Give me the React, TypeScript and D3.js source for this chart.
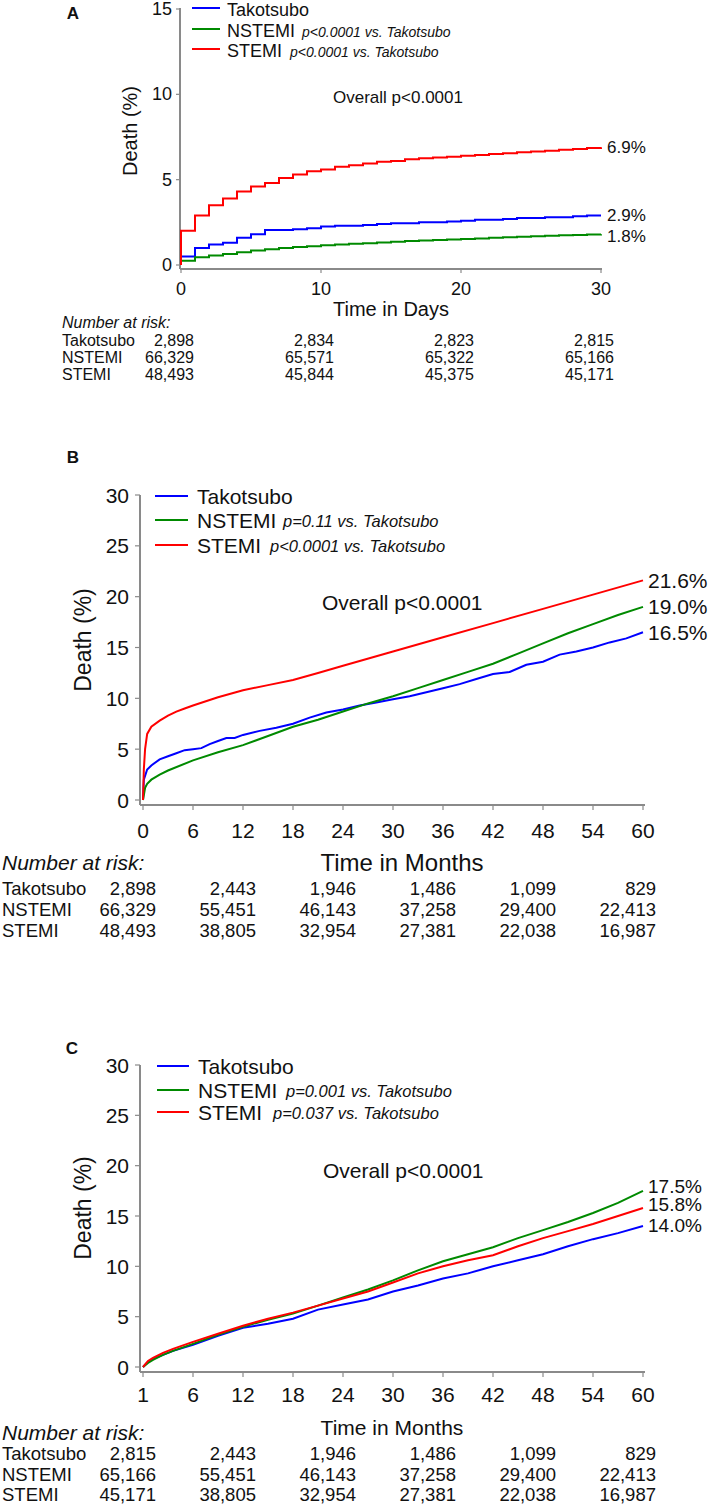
import React from "react";
import * as d3 from "d3";

const FONT = "'Liberation Sans', Arial, Helvetica, sans-serif";

// ---------- shared ----------
const SERIES_NAMES = ["Takotsubo", "NSTEMI", "STEMI"];
const SERIES_COLORS = ["#0000ff", "#008a00", "#ff0000"];

// ---------- Panel A (30 days) ----------
const A_DAYS = [0, 1, 2, 3, 4, 5, 6, 7, 8, 9, 10, 11, 12, 13, 14, 15, 16, 17, 18, 19, 20, 21, 22, 23, 24, 25, 26, 27, 28, 29, 30];
const A_TAKO = [0.5, 1.0, 1.2, 1.3, 1.6, 1.8, 2.05, 2.05, 2.1, 2.15, 2.25, 2.3, 2.3, 2.35, 2.4, 2.45, 2.45, 2.5, 2.5, 2.55, 2.6, 2.65, 2.65, 2.7, 2.75, 2.75, 2.8, 2.8, 2.85, 2.9, 2.9];
const A_NSTEMI = [0.25, 0.45, 0.55, 0.65, 0.75, 0.85, 0.92, 1.0, 1.05, 1.1, 1.15, 1.2, 1.25, 1.28, 1.32, 1.36, 1.4, 1.43, 1.46, 1.5, 1.53, 1.56, 1.59, 1.62, 1.65, 1.68, 1.71, 1.74, 1.76, 1.78, 1.8];
const A_STEMI = [2.0, 2.9, 3.5, 3.9, 4.3, 4.6, 4.8, 5.1, 5.3, 5.5, 5.6, 5.75, 5.85, 5.95, 6.05, 6.1, 6.2, 6.25, 6.3, 6.35, 6.4, 6.45, 6.5, 6.55, 6.6, 6.65, 6.7, 6.75, 6.8, 6.85, 6.9];
const A_X_TICKS = [0, 10, 20, 30];
const A_X_LABELS = ["0", "10", "20", "30"];
const A_Y_TICKS = [0, 5, 10, 15];
const A_P_TEXTS = ["", "p<0.0001 vs. Takotsubo", "p<0.0001 vs. Takotsubo"];
const A_END_LABELS = ["2.9%", "1.8%", "6.9%"];
const A_RISK_TIMES = [0, 10, 20, 30];
const A_RISK = [
  ["2,898", "2,834", "2,823", "2,815"],
  ["66,329", "65,571", "65,322", "65,166"],
  ["48,493", "45,844", "45,375", "45,171"],
];

// ---------- Panel B (60 months) ----------
const B_TAKO_T = [0, 0.1, 0.5, 1, 2, 3, 4, 5, 6, 7, 8, 9, 10, 11, 12, 14, 16, 18, 20, 22, 24, 26, 28, 30, 32, 34, 36, 38, 40, 42, 44, 46, 48, 50, 52, 54, 56, 58, 60];
const B_TAKO_V = [0, 2.0, 3.0, 3.4, 4.0, 4.3, 4.6, 4.9, 5.0, 5.1, 5.5, 5.8, 6.1, 6.1, 6.4, 6.8, 7.1, 7.5, 8.1, 8.6, 8.9, 9.3, 9.6, 9.9, 10.2, 10.6, 11.0, 11.4, 11.9, 12.4, 12.6, 13.3, 13.6, 14.3, 14.6, 15.0, 15.5, 15.9, 16.5];
const B_NSTEMI_T = [0, 0.25, 0.5, 1, 2, 3, 6, 9, 12, 15, 18, 21, 24, 27, 30, 33, 36, 39, 42, 45, 48, 51, 54, 57, 60];
const B_NSTEMI_V = [0, 1.2, 1.6, 2.0, 2.5, 2.9, 3.9, 4.7, 5.4, 6.3, 7.2, 7.9, 8.7, 9.5, 10.2, 11.0, 11.8, 12.6, 13.4, 14.4, 15.4, 16.4, 17.3, 18.2, 19.0];
const B_STEMI_T = [0, 0.1, 0.25, 0.5, 1, 2, 3, 4, 5, 6, 9, 12, 15, 18, 21, 24, 30, 36, 42, 48, 54, 60];
const B_STEMI_V = [0, 3.0, 5.0, 6.5, 7.2, 7.8, 8.3, 8.7, 9.0, 9.3, 10.1, 10.8, 11.3, 11.8, 12.5, 13.2, 14.6, 16.0, 17.4, 18.8, 20.2, 21.6];
const B_X_TICKS = [0, 6, 12, 18, 24, 30, 36, 42, 48, 54, 60];
const B_X_LABELS = ["0", "6", "12", "18", "24", "30", "36", "42", "48", "54", "60"];
const BC_Y_TICKS = [0, 5, 10, 15, 20, 25, 30];
const B_P_TEXTS = ["", "p=0.11 vs. Takotsubo", "p<0.0001 vs. Takotsubo"];
const B_END_LABELS = ["16.5%", "19.0%", "21.6%"];
const B_RISK_TIMES = [0, 12, 24, 36, 48, 60];
const B_RISK = [
  ["2,898", "2,443", "1,946", "1,486", "1,099", "829"],
  ["66,329", "55,451", "46,143", "37,258", "29,400", "22,413"],
  ["48,493", "38,805", "32,954", "27,381", "22,038", "16,987"],
];

// ---------- Panel C (landmark, months 1-60) ----------
const C_T = [1, 1.5, 2, 3, 4, 6, 9, 12, 15, 18, 21, 24, 27, 30, 33, 36, 39, 42, 45, 48, 51, 54, 57, 60];
const C_TAKO_V = [0, 0.5, 0.8, 1.2, 1.6, 2.2, 3.1, 3.9, 4.3, 4.8, 5.7, 6.2, 6.7, 7.5, 8.1, 8.8, 9.3, 10.0, 10.6, 11.2, 12.0, 12.7, 13.3, 14.0];
const C_NSTEMI_V = [0, 0.4, 0.7, 1.2, 1.6, 2.3, 3.2, 4.0, 4.7, 5.3, 6.1, 6.9, 7.7, 8.6, 9.6, 10.5, 11.2, 11.9, 12.8, 13.6, 14.4, 15.3, 16.3, 17.5];
const C_STEMI_V = [0, 0.6, 0.9, 1.4, 1.8, 2.5, 3.3, 4.1, 4.8, 5.4, 6.1, 6.8, 7.5, 8.4, 9.3, 10.0, 10.6, 11.1, 12.0, 12.8, 13.5, 14.2, 15.0, 15.8];
const C_X_TICKS = [1, 6, 12, 18, 24, 30, 36, 42, 48, 54, 60];
const C_X_LABELS = ["1", "6", "12", "18", "24", "30", "36", "42", "48", "54", "60"];
const C_P_TEXTS = ["", "p=0.001 vs. Takotsubo", "p=0.037 vs. Takotsubo"];
const C_END_LABELS = ["14.0%", "17.5%", "15.8%"];
const C_RISK_TIMES = [1, 12, 24, 36, 48, 60];
const C_RISK = [
  ["2,815", "2,443", "1,946", "1,486", "1,099", "829"],
  ["65,166", "55,451", "46,143", "37,258", "29,400", "22,413"],
  ["45,171", "38,805", "32,954", "27,381", "22,038", "16,987"],
];

const AXIS_COLOR = "#8a8a8a";
const TEXT_COLOR = "#111";

type Cfg = {
  letter: string; letterX: number; letterY: number;
  x: d3.ScaleLinear<number, number>; y: d3.ScaleLinear<number, number>;
  axisX: number; axisY: number; axisTop: number; axisRight: number;
  xTicks: number[]; xLabels: string[]; yTicks: number[];
  tickFont: number; xLabelY: number; yLabelGap: number; tickLen: number;
  xTitle: string; xTitleX: number; xTitleY: number; xTitleFont: number;
  yTitleX: number; yTitleY: number; yTitleFont: number;
  legX0: number; legX1: number; legYs: number[]; legTextX: number; legFont: number; legTextDy: number;
  pXs: number[]; pFont: number; pTexts: string[];
  overallX: number; overallY: number; overallFont: number;
  endX: number; endFont: number; endLabels: string[]; endYs: number[];
  riskHeaderX: number; riskHeaderY: number; riskHeaderFont: number;
  riskLabelX: number; riskRowYs: number[]; riskFont: number; riskTimes: number[]; riskOffset: number; risk: string[][];
  series: { t: number[]; v: number[] }[];
  step: boolean;
};

function Panel({ c }: { c: Cfg }) {
  const line = d3
    .line<[number, number]>()
    .x((d) => c.x(d[0]))
    .y((d) => c.y(d[1]))
    .curve(c.step ? d3.curveStepAfter : d3.curveLinear);
  return (
    <g fontFamily={FONT} fill={TEXT_COLOR}>
      <text x={c.letterX} y={c.letterY} fontSize={17} fontWeight="bold" textAnchor="middle" dominantBaseline="central">
        {c.letter}
      </text>
      {/* axes */}
      <line x1={c.axisX} x2={c.axisX} y1={c.axisTop} y2={c.axisY} stroke={AXIS_COLOR} strokeWidth={2} />
      <line x1={c.axisX} x2={c.axisRight} y1={c.axisY} y2={c.axisY} stroke={AXIS_COLOR} strokeWidth={2} />
      {c.yTicks.map((t) => (
        <g key={"y" + t}>
          <line x1={c.axisX - c.tickLen} x2={c.axisX} y1={c.y(t)} y2={c.y(t)} stroke={AXIS_COLOR} strokeWidth={1.2} />
          <text x={c.axisX - c.yLabelGap} y={c.y(t)} fontSize={c.tickFont} textAnchor="end" dominantBaseline="central">
            {t}
          </text>
        </g>
      ))}
      {c.xTicks.map((t, i) => (
        <g key={"x" + t}>
          <line x1={c.x(t)} x2={c.x(t)} y1={c.axisY} y2={c.axisY + c.tickLen} stroke={AXIS_COLOR} strokeWidth={1.2} />
          <text x={c.x(t)} y={c.xLabelY} fontSize={c.tickFont} textAnchor="middle" dominantBaseline="central">
            {c.xLabels[i]}
          </text>
        </g>
      ))}
      <text x={c.xTitleX} y={c.xTitleY} fontSize={c.xTitleFont} textAnchor="middle" dominantBaseline="central">
        {c.xTitle}
      </text>
      <text
        transform={`translate(${c.yTitleX},${c.yTitleY}) rotate(-90)`}
        fontSize={c.yTitleFont}
        textAnchor="middle"
        dominantBaseline="central"
      >
        Death (%)
      </text>
      {/* curves */}
      {c.series.map((s, i) => (
        <path
          key={"s" + i}
          d={line(s.t.map((t, k) => [t, s.v[k]] as [number, number])) || ""}
          fill="none"
          stroke={SERIES_COLORS[i]}
          strokeWidth={2}
        />
      ))}
      {/* legend */}
      {SERIES_NAMES.map((n, i) => (
        <g key={"l" + i}>
          <line x1={c.legX0} x2={c.legX1} y1={c.legYs[i]} y2={c.legYs[i]} stroke={SERIES_COLORS[i]} strokeWidth={2} />
          <text x={c.legTextX} y={c.legYs[i] + c.legTextDy} fontSize={c.legFont} dominantBaseline="central">
            {n}
          </text>
          {c.pTexts[i] ? (
            <text x={c.pXs[i]} y={c.legYs[i] + c.legTextDy + 1} fontSize={c.pFont} fontStyle="italic" dominantBaseline="central">
              {c.pTexts[i]}
            </text>
          ) : null}
        </g>
      ))}
      <text x={c.overallX} y={c.overallY} fontSize={c.overallFont} dominantBaseline="central">
        Overall p&lt;0.0001
      </text>
      {c.endLabels.map((l, i) => (
        <text key={"e" + i} x={c.endX} y={c.endYs[i]} fontSize={c.endFont} dominantBaseline="central">
          {l}
        </text>
      ))}
      {/* risk table */}
      <text x={c.riskHeaderX} y={c.riskHeaderY} fontSize={c.riskHeaderFont} fontStyle="italic" dominantBaseline="central">
        Number at risk:
      </text>
      {SERIES_NAMES.map((n, i) => (
        <g key={"r" + i}>
          <text x={c.riskLabelX} y={c.riskRowYs[i]} fontSize={c.riskFont} dominantBaseline="central">
            {n}
          </text>
          {c.risk[i].map((v, j) => (
            <text
              key={j}
              x={c.x(c.riskTimes[j]) + c.riskOffset}
              y={c.riskRowYs[i]}
              fontSize={c.riskFont}
              textAnchor="end"
              dominantBaseline="central"
            >
              {v}
            </text>
          ))}
        </g>
      ))}
    </g>
  );
}

export default function App() {
  const xA = d3.scaleLinear().domain([0, 30]).range([181, 601]);
  const yA = d3.scaleLinear().domain([0, 15]).range([265, 9]);
  const xB = d3.scaleLinear().domain([0, 60]).range([143, 643]);
  const yB = d3.scaleLinear().domain([0, 30]).range([800, 495]);
  const xC = d3.scaleLinear().domain([1, 6, 60]).range([143, 193, 643]);
  const yC = d3.scaleLinear().domain([0, 30]).range([1367, 1065]);

  const cfgA: Cfg = {
    letter: "A", letterX: 73, letterY: 13,
    x: xA, y: yA, axisX: 180, axisY: 269, axisTop: 8, axisRight: 602,
    xTicks: A_X_TICKS, xLabels: A_X_LABELS, yTicks: A_Y_TICKS,
    tickFont: 18, xLabelY: 289, yLabelGap: 8, tickLen: 4,
    xTitle: "Time in Days", xTitleX: 391, xTitleY: 309, xTitleFont: 20,
    yTitleX: 130, yTitleY: 131, yTitleFont: 20,
    legX0: 192, legX1: 220, legYs: [8, 29, 49], legTextX: 227, legFont: 18, legTextDy: 1.5,
    pXs: [0, 302, 290], pFont: 14, pTexts: A_P_TEXTS,
    overallX: 333, overallY: 97, overallFont: 17,
    endX: 607, endFont: 17, endLabels: A_END_LABELS,
    endYs: [yA(2.9), yA(1.8) + 2, yA(6.9)],
    riskHeaderX: 62, riskHeaderY: 322, riskHeaderFont: 16,
    riskLabelX: 62, riskRowYs: [340, 357, 374], riskFont: 16, riskTimes: A_RISK_TIMES, riskOffset: 13, risk: A_RISK,
    series: [
      { t: [0, ...A_DAYS], v: [0, ...A_TAKO] },
      { t: [0, ...A_DAYS], v: [0, ...A_NSTEMI] },
      { t: [0, ...A_DAYS], v: [0, ...A_STEMI] },
    ],
    step: true,
  };

  const cfgB: Cfg = {
    letter: "B", letterX: 73, letterY: 457,
    x: xB, y: yB, axisX: 140, axisY: 805, axisTop: 495, axisRight: 645,
    xTicks: B_X_TICKS, xLabels: B_X_LABELS, yTicks: BC_Y_TICKS,
    tickFont: 21, xLabelY: 830, yLabelGap: 11, tickLen: 5,
    xTitle: "Time in Months", xTitleX: 402, xTitleY: 862, xTitleFont: 24,
    yTitleX: 83, yTitleY: 640, yTitleFont: 23,
    legX0: 155, legX1: 188, legYs: [496, 520, 545], legTextX: 197, legFont: 21, legTextDy: 0,
    pXs: [0, 283, 270], pFont: 16.5, pTexts: B_P_TEXTS,
    overallX: 322, overallY: 602, overallFont: 21,
    endX: 648, endFont: 21, endLabels: B_END_LABELS,
    endYs: [yB(16.5), yB(19.0), yB(21.6)],
    riskHeaderX: 2, riskHeaderY: 862, riskHeaderFont: 21,
    riskLabelX: 2, riskRowYs: [888, 909, 930], riskFont: 18.5, riskTimes: B_RISK_TIMES, riskOffset: 13, risk: B_RISK,
    series: [
      { t: B_TAKO_T, v: B_TAKO_V },
      { t: B_NSTEMI_T, v: B_NSTEMI_V },
      { t: B_STEMI_T, v: B_STEMI_V },
    ],
    step: false,
  };

  const cfgC: Cfg = {
    letter: "C", letterX: 72, letterY: 1048,
    x: xC, y: yC, axisX: 140, axisY: 1372, axisTop: 1065, axisRight: 645,
    xTicks: C_X_TICKS, xLabels: C_X_LABELS, yTicks: BC_Y_TICKS,
    tickFont: 21, xLabelY: 1394, yLabelGap: 11, tickLen: 5,
    xTitle: "Time in Months", xTitleX: 392, xTitleY: 1427, xTitleFont: 21,
    yTitleX: 83, yTitleY: 1208, yTitleFont: 23,
    legX0: 157, legX1: 189, legYs: [1066, 1090, 1112], legTextX: 198, legFont: 21, legTextDy: 0,
    pXs: [0, 286, 273], pFont: 16.5, pTexts: C_P_TEXTS,
    overallX: 323, overallY: 1170, overallFont: 21,
    endX: 648, endFont: 19, endLabels: C_END_LABELS,
    endYs: [yC(14.0) - 1, yC(17.5) - 4, yC(15.8) - 3],
    riskHeaderX: 2, riskHeaderY: 1432, riskHeaderFont: 21,
    riskLabelX: 2, riskRowYs: [1453, 1474, 1494], riskFont: 18.5, riskTimes: C_RISK_TIMES, riskOffset: 13, risk: C_RISK,
    series: [
      { t: C_T, v: C_TAKO_V },
      { t: C_T, v: C_NSTEMI_V },
      { t: C_T, v: C_STEMI_V },
    ],
    step: false,
  };

  return (
    <svg
      width={709}
      height={1505}
      viewBox="0 0 709 1505"
      style={{ position: "absolute", left: 0, top: 0, background: "#fff" }}
    >
      <rect x={0} y={0} width={709} height={1505} fill="#fff" />
      <Panel c={cfgA} />
      <Panel c={cfgB} />
      <Panel c={cfgC} />
    </svg>
  );
}
